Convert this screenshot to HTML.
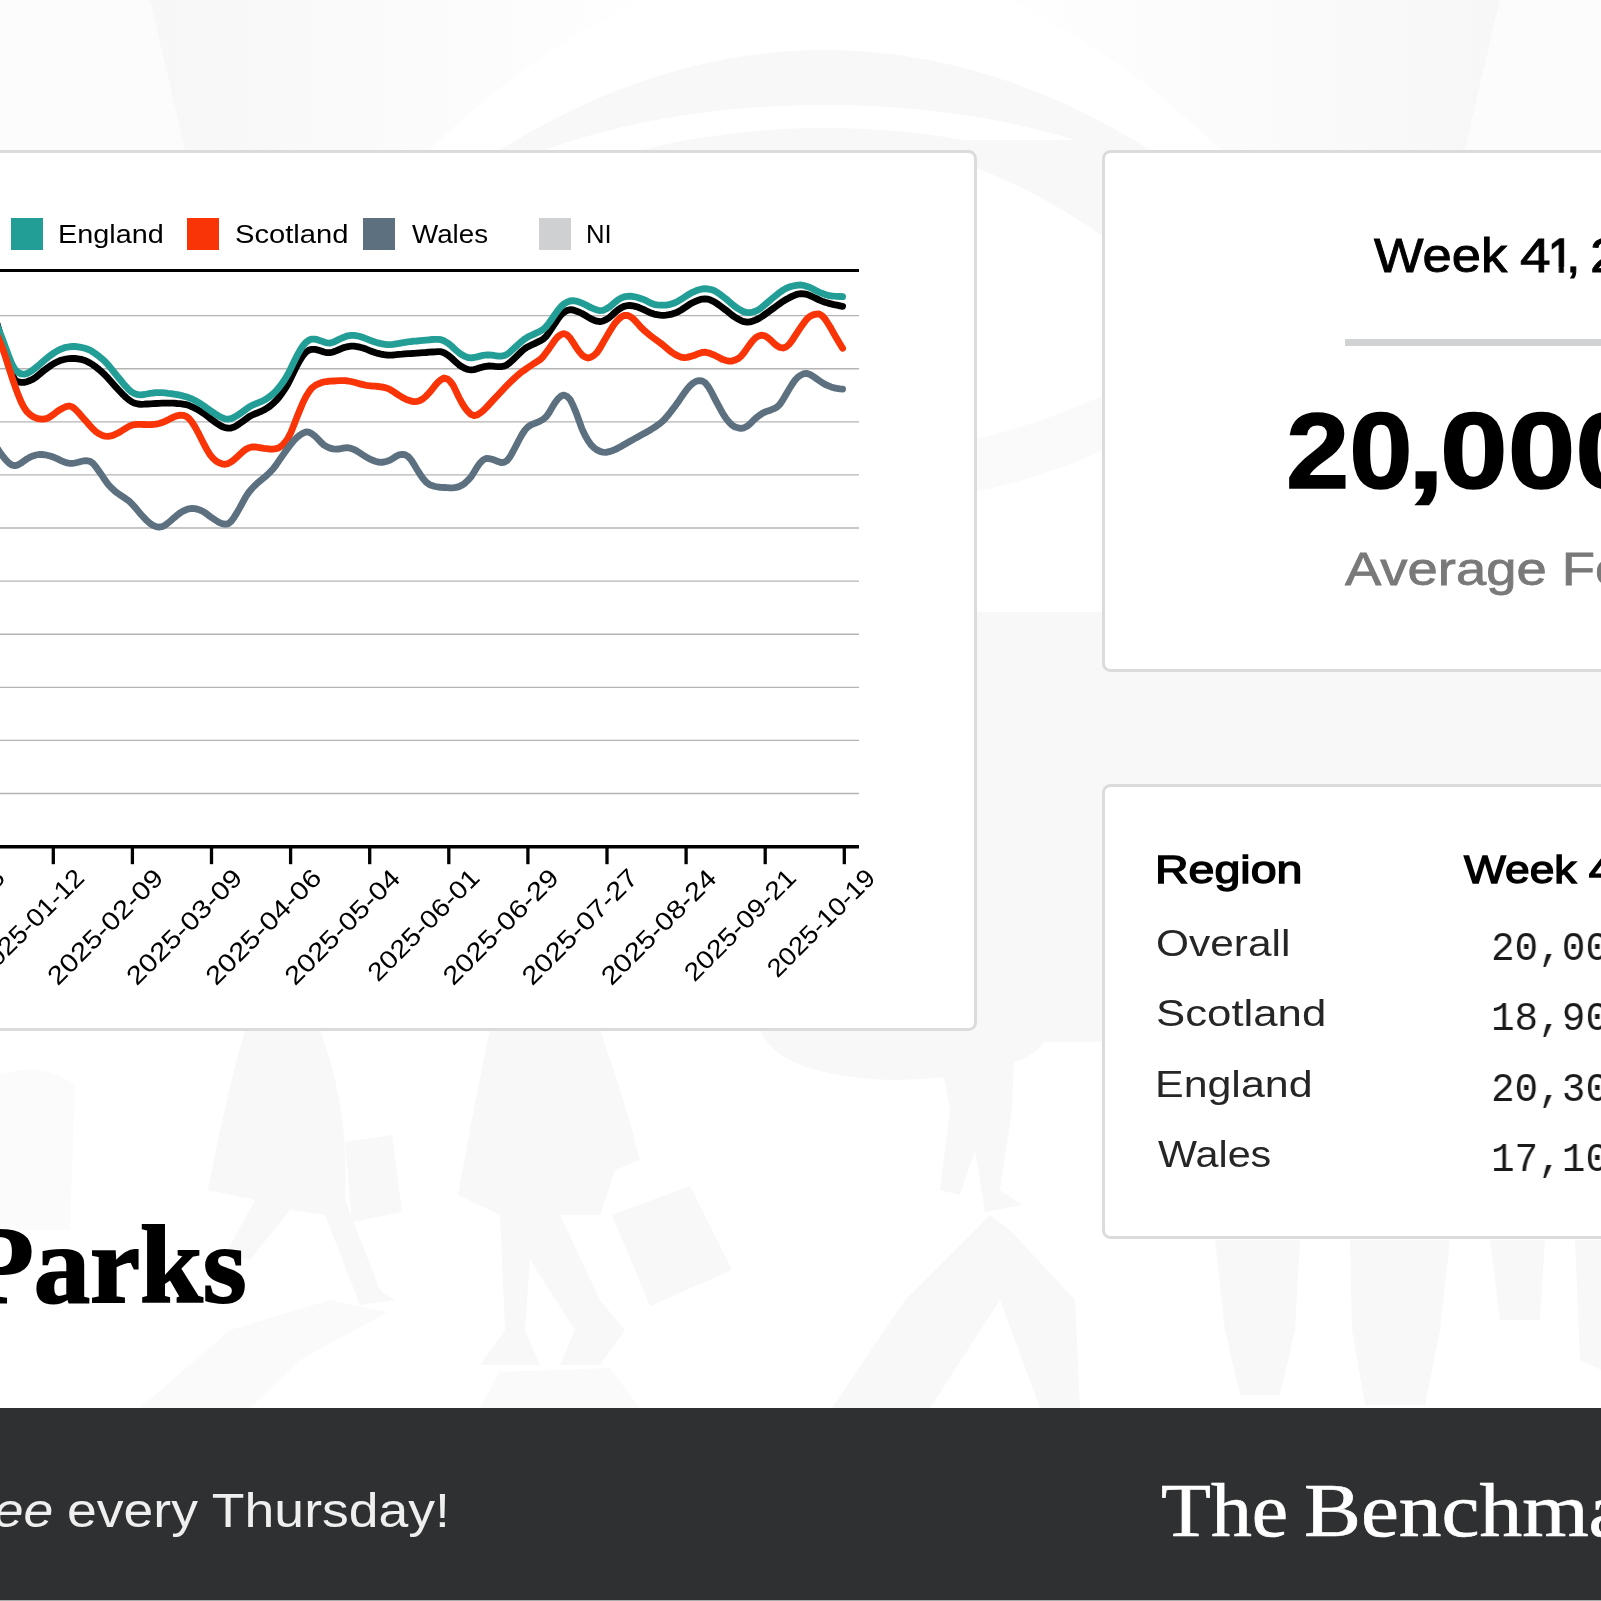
<!DOCTYPE html>
<html lang="en"><head><meta charset="utf-8"><title>Retail Parks Footfall</title>
<style>
html,body{margin:0;padding:0}
html{width:1601px;height:1601px;overflow:hidden}
body{width:1601px;height:1601px;position:relative;overflow:hidden;background:#fff;font-family:"Liberation Sans",sans-serif}
.abs{position:absolute;left:0;top:0;will-change:transform}
.card{position:absolute;box-sizing:border-box;background:#fff;border:3.2px solid #dbdbdb;border-radius:8.5px}
.t{will-change:transform;position:absolute;white-space:nowrap;line-height:1;transform-origin:0 0}
.sw{position:absolute;width:32px;height:32px;top:217.6px}
</style></head><body>
<svg class="abs" width="1601" height="1601" viewBox="0 0 1601 1601">
<path d="M0,0 L150,0 L185,150 L0,150 Z" fill="#fcfcfc"/>
<defs><linearGradient id="gl" x1="150" x2="620" y1="0" y2="0" gradientUnits="userSpaceOnUse"><stop offset="0" stop-color="#f7f7f7"/><stop offset="1" stop-color="#fefefe"/></linearGradient><linearGradient id="gr" x1="1500" x2="1030" y1="0" y2="0" gradientUnits="userSpaceOnUse"><stop offset="0" stop-color="#f7f7f7"/><stop offset="1" stop-color="#fefefe"/></linearGradient></defs>
<path d="M150,0 L640,0 Q520,60 430,150 L185,150 Z" fill="url(#gl)"/>
<path d="M1500,0 L1010,0 Q1130,60 1220,150 L1465,150 Z" fill="url(#gr)"/>
<path d="M1500,0 L1601,0 L1601,150 L1465,150 Z" fill="#fcfcfc"/>
<path d="M500,150 Q660,50 825,50 Q990,50 1150,150 L1105,150 Q980,105 825,105 Q670,105 545,150 Z" fill="#f8f8f8"/>
<path d="M640,150 Q730,128 825,128 Q920,128 1010,150 Z" fill="#f8f8f8"/>
<path d="M965,140 L1115,140 L1115,245 Q1040,190 965,164 Z" fill="#f8f8f8"/>
<path d="M965,442 Q1040,425 1115,390 L1115,445 Q1040,480 965,494 Z" fill="#fafafa"/>
<rect x="965" y="612" width="150" height="430" fill="#f8f8f8"/>
<rect x="1095" y="660" width="506" height="135" fill="#f8f8f8"/>
<path d="M0,1075 Q40,1060 75,1085 L70,1230 L0,1230 Z" fill="#fbfbfb"/>
<path d="M245,1030 L320,1030 Q350,1110 345,1200 L380,1290 L395,1300 L360,1305 L325,1215 L290,1210 L250,1260 L225,1255 L255,1200 L208,1190 Q225,1100 245,1030 Z" fill="#f8f8f8"/>
<path d="M345,1142 L392,1135 L402,1212 L352,1222 Z" fill="#f8f8f8"/>
<path d="M490,1030 L600,1030 Q625,1100 640,1160 L615,1170 L600,1215 L560,1215 L600,1300 L625,1330 L600,1365 L560,1365 L575,1330 L530,1260 L525,1330 L540,1365 L480,1365 L505,1330 L500,1215 L458,1195 Q475,1100 490,1030 Z" fill="#f8f8f8"/>
<path d="M612,1215 L690,1186 L732,1270 L650,1306 Z" fill="#f8f8f8"/>
<path d="M760,1030 L1050,1030 Q1040,1075 900,1080 Q780,1078 760,1030 Z" fill="#f8f8f8"/>
<path d="M935,1030 L1015,1030 L1012,1110 L1000,1190 L1022,1205 L985,1212 L975,1150 L960,1195 L940,1190 L950,1110 Z" fill="#f8f8f8"/>
<path d="M140,1408 L230,1330 L330,1300 L388,1312 L300,1360 L250,1408 Z" fill="#fafafa"/>
<path d="M480,1408 L500,1372 L610,1368 L640,1408 Z" fill="#fafafa"/>
<path d="M832,1408 L905,1300 L990,1215 L1010,1230 L1075,1300 L1080,1408 L1040,1408 L1000,1300 L930,1408 Z" fill="#f8f8f8"/>
<path d="M1215,1240 L1300,1240 L1295,1330 L1280,1395 L1240,1395 L1225,1330 Z" fill="#f8f8f8"/>
<path d="M1350,1240 L1450,1240 L1440,1330 L1425,1405 L1365,1405 L1352,1330 Z" fill="#f8f8f8"/>
<path d="M1490,1240 L1545,1240 L1540,1320 L1500,1320 Z" fill="#f8f8f8"/>
<path d="M1575,1240 L1601,1240 L1601,1370 L1580,1360 Z" fill="#f8f8f8"/>
</svg>
<div class="card" style="left:-40px;top:150.4px;width:1017.2px;height:880.2px"></div>
<div class="card" style="left:1101.9px;top:150.4px;width:560px;height:521.9px"></div>
<div class="card" style="left:1101.9px;top:784.3px;width:560px;height:454.4px"></div>
<svg class="abs" width="1601" height="1601" viewBox="0 0 1601 1601">
<line x1="-10" x2="859" y1="793.5" y2="793.5" stroke="#b4b4b4" stroke-width="1.35"/>
<line x1="-10" x2="859" y1="740.4" y2="740.4" stroke="#b4b4b4" stroke-width="1.35"/>
<line x1="-10" x2="859" y1="687.3" y2="687.3" stroke="#b4b4b4" stroke-width="1.35"/>
<line x1="-10" x2="859" y1="634.2" y2="634.2" stroke="#b4b4b4" stroke-width="1.35"/>
<line x1="-10" x2="859" y1="581.1" y2="581.1" stroke="#b4b4b4" stroke-width="1.35"/>
<line x1="-10" x2="859" y1="528.0" y2="528.0" stroke="#b4b4b4" stroke-width="1.35"/>
<line x1="-10" x2="859" y1="474.9" y2="474.9" stroke="#b4b4b4" stroke-width="1.35"/>
<line x1="-10" x2="859" y1="421.8" y2="421.8" stroke="#b4b4b4" stroke-width="1.35"/>
<line x1="-10" x2="859" y1="368.7" y2="368.7" stroke="#b4b4b4" stroke-width="1.35"/>
<line x1="-10" x2="859" y1="315.6" y2="315.6" stroke="#b4b4b4" stroke-width="1.35"/>
<path d="M-6.0,316.0 L-3.0,323.7 L0.0,334.0 L3.0,345.6 L6.0,356.9 L9.0,366.4 L12.0,373.9 L15.0,379.9 L18.0,381.8 L21.0,382.3 L24.0,382.4 L27.0,381.7 L30.0,380.5 L33.0,379.1 L36.0,377.2 L39.0,374.7 L42.0,372.2 L45.0,369.7 L48.0,367.5 L51.0,365.4 L54.0,363.5 L57.0,362.0 L60.0,360.6 L63.0,359.7 L66.0,359.0 L69.0,358.6 L72.0,358.5 L75.0,358.5 L78.0,358.8 L81.0,359.3 L84.0,360.2 L87.0,361.4 L90.0,363.0 L93.0,364.9 L96.0,367.1 L99.0,369.5 L102.0,372.1 L105.0,375.0 L108.0,378.2 L111.0,381.6 L114.0,385.0 L117.0,388.3 L120.0,391.5 L123.0,394.6 L126.0,397.5 L129.0,400.0 L132.0,402.0 L135.0,403.3 L138.0,404.0 L141.0,404.3 L144.0,404.2 L147.0,404.0 L150.0,403.8 L153.0,403.6 L156.0,403.5 L159.0,403.4 L162.0,403.2 L165.0,403.1 L168.0,403.1 L171.0,403.1 L174.0,403.2 L177.0,403.5 L180.0,403.7 L183.0,404.1 L186.0,404.6 L189.0,405.5 L192.0,406.8 L195.0,408.3 L198.0,409.8 L201.0,411.6 L204.0,413.6 L207.0,415.9 L210.0,418.2 L213.0,420.5 L216.0,422.7 L219.0,424.8 L222.0,426.5 L225.0,427.7 L228.0,428.2 L231.0,428.0 L234.0,427.1 L237.0,425.4 L240.0,423.3 L243.0,421.2 L246.0,419.0 L249.0,416.8 L252.0,415.1 L255.0,413.8 L258.0,412.7 L261.0,411.4 L264.0,410.0 L267.0,408.2 L270.0,406.1 L273.0,403.7 L276.0,400.7 L279.0,397.2 L282.0,393.2 L285.0,388.8 L288.0,383.7 L291.0,377.7 L294.0,371.5 L297.0,365.5 L300.0,360.1 L303.0,355.5 L306.0,352.0 L309.0,350.1 L312.0,349.3 L315.0,349.3 L318.0,350.1 L321.0,351.0 L324.0,352.0 L327.0,352.7 L330.0,352.7 L333.0,352.0 L336.0,350.9 L339.0,349.6 L342.0,348.3 L345.0,347.3 L348.0,346.6 L351.0,346.2 L354.0,346.2 L357.0,346.6 L360.0,347.2 L363.0,348.0 L366.0,349.0 L369.0,350.3 L372.0,351.5 L375.0,352.5 L378.0,353.4 L381.0,354.1 L384.0,354.7 L387.0,355.0 L390.0,355.2 L393.0,355.0 L396.0,354.7 L399.0,354.3 L402.0,354.1 L405.0,353.8 L408.0,353.6 L411.0,353.5 L414.0,353.3 L417.0,353.1 L420.0,352.9 L423.0,352.7 L426.0,352.5 L429.0,352.2 L432.0,352.0 L435.0,351.9 L438.0,351.7 L441.0,351.7 L444.0,352.7 L447.0,354.6 L450.0,356.8 L453.0,359.4 L456.0,362.2 L459.0,364.8 L462.0,366.8 L465.0,368.4 L468.0,369.5 L471.0,369.9 L474.0,369.6 L477.0,368.8 L480.0,367.8 L483.0,366.9 L486.0,366.3 L489.0,366.0 L492.0,366.1 L495.0,366.4 L498.0,366.6 L501.0,366.6 L504.0,366.2 L507.0,364.8 L510.0,362.5 L513.0,359.8 L516.0,356.9 L519.0,353.9 L522.0,351.0 L525.0,348.5 L528.0,346.7 L531.0,345.2 L534.0,343.9 L537.0,342.4 L540.0,340.9 L543.0,339.3 L546.0,336.5 L549.0,332.4 L552.0,327.9 L555.0,323.3 L558.0,318.8 L561.0,314.9 L564.0,312.2 L567.0,310.6 L570.0,309.7 L573.0,310.0 L576.0,311.0 L579.0,312.2 L582.0,313.5 L585.0,315.2 L588.0,317.1 L591.0,318.8 L594.0,320.2 L597.0,321.2 L600.0,321.7 L603.0,321.0 L606.0,319.6 L609.0,317.8 L612.0,315.2 L615.0,312.3 L618.0,309.8 L621.0,307.8 L624.0,306.4 L627.0,305.7 L630.0,305.5 L633.0,305.8 L636.0,306.6 L639.0,307.6 L642.0,308.8 L645.0,310.2 L648.0,311.7 L651.0,313.1 L654.0,314.1 L657.0,314.7 L660.0,315.1 L663.0,315.3 L666.0,315.1 L669.0,314.7 L672.0,314.1 L675.0,313.1 L678.0,311.8 L681.0,310.1 L684.0,308.1 L687.0,306.1 L690.0,304.1 L693.0,302.5 L696.0,301.1 L699.0,300.0 L702.0,299.1 L705.0,298.8 L708.0,299.1 L711.0,300.2 L714.0,301.7 L717.0,303.6 L720.0,305.7 L723.0,307.9 L726.0,310.2 L729.0,312.7 L732.0,315.1 L735.0,317.2 L738.0,319.0 L741.0,320.6 L744.0,321.7 L747.0,322.2 L750.0,321.9 L753.0,321.0 L756.0,319.9 L759.0,318.4 L762.0,316.5 L765.0,314.4 L768.0,312.2 L771.0,310.0 L774.0,307.9 L777.0,305.6 L780.0,303.4 L783.0,301.3 L786.0,299.5 L789.0,297.9 L792.0,296.4 L795.0,295.1 L798.0,294.1 L801.0,293.7 L804.0,293.8 L807.0,294.4 L810.0,295.6 L813.0,297.0 L816.0,298.4 L819.0,299.9 L822.0,301.1 L825.0,302.2 L828.0,303.1 L831.0,303.9 L834.0,304.6 L837.0,305.2 L840.0,305.8 L842.6,306.3" fill="none" stroke="#000" stroke-width="6.8" stroke-linecap="round" stroke-linejoin="round"/>
<path d="M-6.0,318.0 L-3.0,325.5 L0.0,333.0 L3.0,340.6 L6.0,348.6 L9.0,356.9 L12.0,364.3 L15.0,369.5 L18.0,372.4 L21.0,373.9 L24.0,374.2 L27.0,373.5 L30.0,371.9 L33.0,369.9 L36.0,367.5 L39.0,365.0 L42.0,362.4 L45.0,359.8 L48.0,357.3 L51.0,355.0 L54.0,352.9 L57.0,351.1 L60.0,349.5 L63.0,348.3 L66.0,347.3 L69.0,346.8 L72.0,346.5 L75.0,346.5 L78.0,346.8 L81.0,347.4 L84.0,348.0 L87.0,349.0 L90.0,350.2 L93.0,352.0 L96.0,354.1 L99.0,356.3 L102.0,358.8 L105.0,361.5 L108.0,364.8 L111.0,368.4 L114.0,372.1 L117.0,375.8 L120.0,379.5 L123.0,383.2 L126.0,386.7 L129.0,389.8 L132.0,392.3 L135.0,393.8 L138.0,394.6 L141.0,394.8 L144.0,394.5 L147.0,394.0 L150.0,393.4 L153.0,393.0 L156.0,392.7 L159.0,392.6 L162.0,392.7 L165.0,392.9 L168.0,393.3 L171.0,393.6 L174.0,394.1 L177.0,394.6 L180.0,395.2 L183.0,395.9 L186.0,396.8 L189.0,397.8 L192.0,399.0 L195.0,400.5 L198.0,402.2 L201.0,404.0 L204.0,406.0 L207.0,408.2 L210.0,410.3 L213.0,412.3 L216.0,414.3 L219.0,416.2 L222.0,417.7 L225.0,418.9 L228.0,419.2 L231.0,418.7 L234.0,417.4 L237.0,415.6 L240.0,413.6 L243.0,411.5 L246.0,409.2 L249.0,407.1 L252.0,405.3 L255.0,404.1 L258.0,402.9 L261.0,401.7 L264.0,400.2 L267.0,398.5 L270.0,396.4 L273.0,393.9 L276.0,391.0 L279.0,387.5 L282.0,383.5 L285.0,379.1 L288.0,374.0 L291.0,368.0 L294.0,361.8 L297.0,355.7 L300.0,350.4 L303.0,345.7 L306.0,342.2 L309.0,340.1 L312.0,339.1 L315.0,339.1 L318.0,339.9 L321.0,340.9 L324.0,342.0 L327.0,342.9 L330.0,343.1 L333.0,342.3 L336.0,340.9 L339.0,339.4 L342.0,338.0 L345.0,336.8 L348.0,335.8 L351.0,335.3 L354.0,335.3 L357.0,335.8 L360.0,336.5 L363.0,337.5 L366.0,338.6 L369.0,339.8 L372.0,341.0 L375.0,342.0 L378.0,342.9 L381.0,343.6 L384.0,344.2 L387.0,344.6 L390.0,344.7 L393.0,344.4 L396.0,343.9 L399.0,343.4 L402.0,342.8 L405.0,342.3 L408.0,341.9 L411.0,341.5 L414.0,341.2 L417.0,341.0 L420.0,340.7 L423.0,340.4 L426.0,340.1 L429.0,339.8 L432.0,339.5 L435.0,339.3 L438.0,339.3 L441.0,339.7 L444.0,340.8 L447.0,342.6 L450.0,344.8 L453.0,347.4 L456.0,350.2 L459.0,352.8 L462.0,354.8 L465.0,356.4 L468.0,357.5 L471.0,357.8 L474.0,357.5 L477.0,356.9 L480.0,356.1 L483.0,355.4 L486.0,355.0 L489.0,355.0 L492.0,355.2 L495.0,355.7 L498.0,356.0 L501.0,356.1 L504.0,355.7 L507.0,354.4 L510.0,352.1 L513.0,349.3 L516.0,346.5 L519.0,343.7 L522.0,341.1 L525.0,338.8 L528.0,336.9 L531.0,335.5 L534.0,334.1 L537.0,332.7 L540.0,331.2 L543.0,329.5 L546.0,326.9 L549.0,323.0 L552.0,318.8 L555.0,314.4 L558.0,310.2 L561.0,306.6 L564.0,303.9 L567.0,302.1 L570.0,301.0 L573.0,300.7 L576.0,301.1 L579.0,302.0 L582.0,303.1 L585.0,304.5 L588.0,306.1 L591.0,307.6 L594.0,308.9 L597.0,310.0 L600.0,310.7 L603.0,310.3 L606.0,309.0 L609.0,307.3 L612.0,304.8 L615.0,302.2 L618.0,299.9 L621.0,298.1 L624.0,296.9 L627.0,296.3 L630.0,296.2 L633.0,296.5 L636.0,297.0 L639.0,297.9 L642.0,298.9 L645.0,300.1 L648.0,301.7 L651.0,303.3 L654.0,304.3 L657.0,304.8 L660.0,305.1 L663.0,305.2 L666.0,305.1 L669.0,304.6 L672.0,303.8 L675.0,302.7 L678.0,301.2 L681.0,299.4 L684.0,297.5 L687.0,295.5 L690.0,293.7 L693.0,292.1 L696.0,290.8 L699.0,289.8 L702.0,289.0 L705.0,288.7 L708.0,289.0 L711.0,289.6 L714.0,290.6 L717.0,292.2 L720.0,294.3 L723.0,296.6 L726.0,298.9 L729.0,301.5 L732.0,304.1 L735.0,306.5 L738.0,308.6 L741.0,310.4 L744.0,311.8 L747.0,312.6 L750.0,312.7 L753.0,312.0 L756.0,311.0 L759.0,309.4 L762.0,307.2 L765.0,304.7 L768.0,302.1 L771.0,299.5 L774.0,297.0 L777.0,294.6 L780.0,292.2 L783.0,290.1 L786.0,288.4 L789.0,287.1 L792.0,286.3 L795.0,285.6 L798.0,285.1 L801.0,285.0 L804.0,285.5 L807.0,286.4 L810.0,287.5 L813.0,289.0 L816.0,290.7 L819.0,292.1 L822.0,293.3 L825.0,294.4 L828.0,295.3 L831.0,295.9 L834.0,296.2 L837.0,296.4 L840.0,296.5 L842.6,296.7" fill="none" stroke="#239e97" stroke-width="6.8" stroke-linecap="round" stroke-linejoin="round"/>
<path d="M-6.0,327.0 L-3.0,334.9 L0.0,342.0 L3.0,349.5 L6.0,358.4 L9.0,368.1 L12.0,377.4 L15.0,386.1 L18.0,394.3 L21.0,401.6 L24.0,407.5 L27.0,411.8 L30.0,414.6 L33.0,416.6 L36.0,418.0 L39.0,418.9 L42.0,419.2 L45.0,418.9 L48.0,418.0 L51.0,416.3 L54.0,414.1 L57.0,411.7 L60.0,409.7 L63.0,408.0 L66.0,406.6 L69.0,406.0 L72.0,406.8 L75.0,409.0 L78.0,412.1 L81.0,415.5 L84.0,418.9 L87.0,422.2 L90.0,425.7 L93.0,429.0 L96.0,431.7 L99.0,433.8 L102.0,435.3 L105.0,436.2 L108.0,436.4 L111.0,435.9 L114.0,434.9 L117.0,433.5 L120.0,431.9 L123.0,430.0 L126.0,428.1 L129.0,426.4 L132.0,425.1 L135.0,424.5 L138.0,424.3 L141.0,424.4 L144.0,424.5 L147.0,424.6 L150.0,424.6 L153.0,424.5 L156.0,424.1 L159.0,423.5 L162.0,422.6 L165.0,421.3 L168.0,419.9 L171.0,418.3 L174.0,416.9 L177.0,415.8 L180.0,415.2 L183.0,415.3 L186.0,416.3 L189.0,418.5 L192.0,422.1 L195.0,426.9 L198.0,432.3 L201.0,438.2 L204.0,444.2 L207.0,449.8 L210.0,454.6 L213.0,458.3 L216.0,461.0 L219.0,462.7 L222.0,463.9 L225.0,464.3 L228.0,463.6 L231.0,461.9 L234.0,459.7 L237.0,457.1 L240.0,454.2 L243.0,451.5 L246.0,449.2 L249.0,447.8 L252.0,447.0 L255.0,446.9 L258.0,447.3 L261.0,447.8 L264.0,448.3 L267.0,448.7 L270.0,449.1 L273.0,449.1 L276.0,448.7 L279.0,447.7 L282.0,445.7 L285.0,442.4 L288.0,438.1 L291.0,432.2 L294.0,424.8 L297.0,417.0 L300.0,409.6 L303.0,402.5 L306.0,396.5 L309.0,391.7 L312.0,387.9 L315.0,385.6 L318.0,384.0 L321.0,382.8 L324.0,381.9 L327.0,381.5 L330.0,381.2 L333.0,381.0 L336.0,380.8 L339.0,380.7 L342.0,380.6 L345.0,380.7 L348.0,381.0 L351.0,381.5 L354.0,382.2 L357.0,383.0 L360.0,383.9 L363.0,384.6 L366.0,385.3 L369.0,385.7 L372.0,386.0 L375.0,386.2 L378.0,386.5 L381.0,386.8 L384.0,387.4 L387.0,388.2 L390.0,389.5 L393.0,391.3 L396.0,393.4 L399.0,395.4 L402.0,397.2 L405.0,398.8 L408.0,400.1 L411.0,401.1 L414.0,401.6 L417.0,401.4 L420.0,400.5 L423.0,398.8 L426.0,396.2 L429.0,393.0 L432.0,389.5 L435.0,385.6 L438.0,382.2 L441.0,379.7 L444.0,378.0 L447.0,378.7 L450.0,381.1 L453.0,385.1 L456.0,391.2 L459.0,397.5 L462.0,403.1 L465.0,407.8 L468.0,411.6 L471.0,414.4 L474.0,415.6 L477.0,415.0 L480.0,413.2 L483.0,410.8 L486.0,407.9 L489.0,404.6 L492.0,401.4 L495.0,398.2 L498.0,395.0 L501.0,391.7 L504.0,388.5 L507.0,385.4 L510.0,382.4 L513.0,379.5 L516.0,376.7 L519.0,374.1 L522.0,371.7 L525.0,369.6 L528.0,367.5 L531.0,365.5 L534.0,363.5 L537.0,361.7 L540.0,359.7 L543.0,356.8 L546.0,352.8 L549.0,348.7 L552.0,344.3 L555.0,340.0 L558.0,336.6 L561.0,334.5 L564.0,333.6 L567.0,334.8 L570.0,337.9 L573.0,342.3 L576.0,347.1 L579.0,351.4 L582.0,354.9 L585.0,357.1 L588.0,358.0 L591.0,357.2 L594.0,355.4 L597.0,352.5 L600.0,348.0 L603.0,342.8 L606.0,337.6 L609.0,332.6 L612.0,327.7 L615.0,323.2 L618.0,319.8 L621.0,317.1 L624.0,315.5 L627.0,315.3 L630.0,316.4 L633.0,318.6 L636.0,321.7 L639.0,325.1 L642.0,328.3 L645.0,331.2 L648.0,333.7 L651.0,336.1 L654.0,338.4 L657.0,340.6 L660.0,342.7 L663.0,345.0 L666.0,347.6 L669.0,350.1 L672.0,352.5 L675.0,354.4 L678.0,355.9 L681.0,357.2 L684.0,357.7 L687.0,357.4 L690.0,356.6 L693.0,355.8 L696.0,354.7 L699.0,353.4 L702.0,352.4 L705.0,352.2 L708.0,352.8 L711.0,353.8 L714.0,355.0 L717.0,356.5 L720.0,358.1 L723.0,359.6 L726.0,360.5 L729.0,361.1 L732.0,361.1 L735.0,360.1 L738.0,358.7 L741.0,356.4 L744.0,352.7 L747.0,348.4 L750.0,344.2 L753.0,340.4 L756.0,337.4 L759.0,335.8 L762.0,335.2 L765.0,335.9 L768.0,337.8 L771.0,340.3 L774.0,343.3 L777.0,345.8 L780.0,347.5 L783.0,348.0 L786.0,347.0 L789.0,344.5 L792.0,340.6 L795.0,335.9 L798.0,331.3 L801.0,326.9 L804.0,322.7 L807.0,318.9 L810.0,316.3 L813.0,314.9 L816.0,314.1 L819.0,313.9 L822.0,315.6 L825.0,318.8 L828.0,323.5 L831.0,328.4 L834.0,333.8 L837.0,339.0 L840.0,344.0 L842.6,348.3" fill="none" stroke="#f93508" stroke-width="6.8" stroke-linecap="round" stroke-linejoin="round"/>
<path d="M-6.0,443.0 L-3.0,448.0 L0.0,452.5 L3.0,456.5 L6.0,460.1 L9.0,463.2 L12.0,465.2 L15.0,465.7 L18.0,464.9 L21.0,463.1 L24.0,461.0 L27.0,458.9 L30.0,457.2 L33.0,455.9 L36.0,455.0 L39.0,454.5 L42.0,454.5 L45.0,454.8 L48.0,455.5 L51.0,456.3 L54.0,457.4 L57.0,458.7 L60.0,460.1 L63.0,461.5 L66.0,462.6 L69.0,463.3 L72.0,463.4 L75.0,463.0 L78.0,462.3 L81.0,461.5 L84.0,460.8 L87.0,460.7 L90.0,461.4 L93.0,463.4 L96.0,467.0 L99.0,471.3 L102.0,475.5 L105.0,480.1 L108.0,484.2 L111.0,487.5 L114.0,490.3 L117.0,492.8 L120.0,494.9 L123.0,496.9 L126.0,498.9 L129.0,501.1 L132.0,503.9 L135.0,507.3 L138.0,510.9 L141.0,514.5 L144.0,517.7 L147.0,520.8 L150.0,523.4 L153.0,525.4 L156.0,526.6 L159.0,527.1 L162.0,526.7 L165.0,525.2 L168.0,523.0 L171.0,520.5 L174.0,517.8 L177.0,515.3 L180.0,513.0 L183.0,511.2 L186.0,509.8 L189.0,508.8 L192.0,508.4 L195.0,508.6 L198.0,509.4 L201.0,510.5 L204.0,512.0 L207.0,514.1 L210.0,516.5 L213.0,518.5 L216.0,520.5 L219.0,522.4 L222.0,523.6 L225.0,524.1 L228.0,523.8 L231.0,521.6 L234.0,517.4 L237.0,512.6 L240.0,507.4 L243.0,501.8 L246.0,496.4 L249.0,492.0 L252.0,488.5 L255.0,485.4 L258.0,482.6 L261.0,480.1 L264.0,477.7 L267.0,475.1 L270.0,472.2 L273.0,469.0 L276.0,465.1 L279.0,460.7 L282.0,456.4 L285.0,452.1 L288.0,448.0 L291.0,444.0 L294.0,440.4 L297.0,437.4 L300.0,435.0 L303.0,433.1 L306.0,432.0 L309.0,432.2 L312.0,433.8 L315.0,436.2 L318.0,439.2 L321.0,442.4 L324.0,445.1 L327.0,446.8 L330.0,448.1 L333.0,448.9 L336.0,449.2 L339.0,449.0 L342.0,448.4 L345.0,447.8 L348.0,447.7 L351.0,448.4 L354.0,449.5 L357.0,451.1 L360.0,453.0 L363.0,455.0 L366.0,456.9 L369.0,458.6 L372.0,460.0 L375.0,461.2 L378.0,462.0 L381.0,462.3 L384.0,462.0 L387.0,461.2 L390.0,460.1 L393.0,458.3 L396.0,456.3 L399.0,454.9 L402.0,454.3 L405.0,454.7 L408.0,456.4 L411.0,459.7 L414.0,464.4 L417.0,469.5 L420.0,474.2 L423.0,478.5 L426.0,482.0 L429.0,484.3 L432.0,485.6 L435.0,486.5 L438.0,487.0 L441.0,487.3 L444.0,487.5 L447.0,487.7 L450.0,487.9 L453.0,487.8 L456.0,487.4 L459.0,486.6 L462.0,485.2 L465.0,483.1 L468.0,480.3 L471.0,477.0 L474.0,472.2 L477.0,467.2 L480.0,463.1 L483.0,460.0 L486.0,458.5 L489.0,458.6 L492.0,459.3 L495.0,460.3 L498.0,461.5 L501.0,462.5 L504.0,462.4 L507.0,460.6 L510.0,456.9 L513.0,451.5 L516.0,445.8 L519.0,440.0 L522.0,434.5 L525.0,430.0 L528.0,426.9 L531.0,424.9 L534.0,423.6 L537.0,422.5 L540.0,421.1 L543.0,419.4 L546.0,416.9 L549.0,412.7 L552.0,407.6 L555.0,402.7 L558.0,398.7 L561.0,396.1 L564.0,395.1 L567.0,396.3 L570.0,399.3 L573.0,405.3 L576.0,412.4 L579.0,420.5 L582.0,428.9 L585.0,435.3 L588.0,440.5 L591.0,444.8 L594.0,447.7 L597.0,449.9 L600.0,451.4 L603.0,452.2 L606.0,452.3 L609.0,451.7 L612.0,450.7 L615.0,449.6 L618.0,448.1 L621.0,446.5 L624.0,444.7 L627.0,443.0 L630.0,441.3 L633.0,439.6 L636.0,437.9 L639.0,436.3 L642.0,434.6 L645.0,433.0 L648.0,431.3 L651.0,429.5 L654.0,427.6 L657.0,425.6 L660.0,423.4 L663.0,420.9 L666.0,417.7 L669.0,414.0 L672.0,410.1 L675.0,406.2 L678.0,402.1 L681.0,397.7 L684.0,393.3 L687.0,389.2 L690.0,385.8 L693.0,383.1 L696.0,381.3 L699.0,380.6 L702.0,380.9 L705.0,382.6 L708.0,386.2 L711.0,391.3 L714.0,397.1 L717.0,402.8 L720.0,408.4 L723.0,413.8 L726.0,418.4 L729.0,422.1 L732.0,425.2 L735.0,427.0 L738.0,427.8 L741.0,428.3 L744.0,427.8 L747.0,426.3 L750.0,423.8 L753.0,420.8 L756.0,418.0 L759.0,415.6 L762.0,413.6 L765.0,412.0 L768.0,410.9 L771.0,409.9 L774.0,408.7 L777.0,407.0 L780.0,404.2 L783.0,399.6 L786.0,394.5 L789.0,389.4 L792.0,384.5 L795.0,380.1 L798.0,377.0 L801.0,375.0 L804.0,373.7 L807.0,373.4 L810.0,374.4 L813.0,376.3 L816.0,378.4 L819.0,380.5 L822.0,382.5 L825.0,384.3 L828.0,385.7 L831.0,386.9 L834.0,387.8 L837.0,388.4 L840.0,388.9 L842.6,389.2" fill="none" stroke="#5c7080" stroke-width="6.8" stroke-linecap="round" stroke-linejoin="round"/>
<line x1="-10" x2="859" y1="270.5" y2="270.5" stroke="#000" stroke-width="3.2"/>
<line x1="-10" x2="859" y1="846.7" y2="846.7" stroke="#000" stroke-width="3.4"/>
<line x1="844.3" x2="844.3" y1="846" y2="864.2" stroke="#000" stroke-width="3.3"/>
<line x1="765.2" x2="765.2" y1="846" y2="864.2" stroke="#000" stroke-width="3.3"/>
<line x1="686.1" x2="686.1" y1="846" y2="864.2" stroke="#000" stroke-width="3.3"/>
<line x1="607.0" x2="607.0" y1="846" y2="864.2" stroke="#000" stroke-width="3.3"/>
<line x1="527.9" x2="527.9" y1="846" y2="864.2" stroke="#000" stroke-width="3.3"/>
<line x1="448.8" x2="448.8" y1="846" y2="864.2" stroke="#000" stroke-width="3.3"/>
<line x1="369.7" x2="369.7" y1="846" y2="864.2" stroke="#000" stroke-width="3.3"/>
<line x1="290.6" x2="290.6" y1="846" y2="864.2" stroke="#000" stroke-width="3.3"/>
<line x1="211.5" x2="211.5" y1="846" y2="864.2" stroke="#000" stroke-width="3.3"/>
<line x1="132.4" x2="132.4" y1="846" y2="864.2" stroke="#000" stroke-width="3.3"/>
<line x1="53.3" x2="53.3" y1="846" y2="864.2" stroke="#000" stroke-width="3.3"/>
<line x1="-25.8" x2="-25.8" y1="846" y2="864.2" stroke="#000" stroke-width="3.3"/>
<text transform="translate(875.9,880.3) rotate(-45) scale(1.0765,1)" x="-129.28" y="0" font-family="'Liberation Sans', sans-serif" font-size="25.5" fill="#000">2025-10-19</text>
<text transform="translate(796.8,880.3) rotate(-45) scale(1.1200,1)" x="-129.22" y="0" font-family="'Liberation Sans', sans-serif" font-size="25.5" fill="#000">2025-09-21</text>
<text transform="translate(717.7,880.3) rotate(-45) scale(1.1584,1)" x="-129.73" y="0" font-family="'Liberation Sans', sans-serif" font-size="25.5" fill="#000">2025-08-24</text>
<text transform="translate(638.6,880.3) rotate(-45) scale(1.1636,1)" x="-129.16" y="0" font-family="'Liberation Sans', sans-serif" font-size="25.5" fill="#000">2025-07-27</text>
<text transform="translate(559.5,880.3) rotate(-45) scale(1.1624,1)" x="-129.28" y="0" font-family="'Liberation Sans', sans-serif" font-size="25.5" fill="#000">2025-06-29</text>
<text transform="translate(480.4,880.3) rotate(-45) scale(1.1200,1)" x="-129.22" y="0" font-family="'Liberation Sans', sans-serif" font-size="25.5" fill="#000">2025-06-01</text>
<text transform="translate(401.3,880.3) rotate(-45) scale(1.1584,1)" x="-129.73" y="0" font-family="'Liberation Sans', sans-serif" font-size="25.5" fill="#000">2025-05-04</text>
<text transform="translate(322.2,880.3) rotate(-45) scale(1.1618,1)" x="-129.35" y="0" font-family="'Liberation Sans', sans-serif" font-size="25.5" fill="#000">2025-04-06</text>
<text transform="translate(243.1,880.3) rotate(-45) scale(1.1624,1)" x="-129.28" y="0" font-family="'Liberation Sans', sans-serif" font-size="25.5" fill="#000">2025-03-09</text>
<text transform="translate(164.0,880.3) rotate(-45) scale(1.1624,1)" x="-129.28" y="0" font-family="'Liberation Sans', sans-serif" font-size="25.5" fill="#000">2025-02-09</text>
<text transform="translate(84.9,880.3) rotate(-45) scale(1.0776,1)" x="-129.16" y="0" font-family="'Liberation Sans', sans-serif" font-size="25.5" fill="#000">2025-01-12</text>
<text transform="translate(5.8,880.3) rotate(-45) scale(1.0754,1)" x="-129.41" y="0" font-family="'Liberation Sans', sans-serif" font-size="25.5" fill="#000">2024-12-15</text>
</svg>
<div class="sw" style="left:-165px;background:#000"></div>
<div class="sw" style="left:11px;background:#239e97"></div>
<div class="sw" style="left:186.6px;background:#f93508"></div>
<div class="sw" style="left:362.6px;background:#5c7080"></div>
<div class="sw" style="left:538.6px;background:#cfd0d2"></div>
<div class="t" style="left:57.62px;top:222.27px;font-family:'Liberation Sans', sans-serif;font-weight:400;font-size:25.2px;color:#000;transform:scaleX(1.1438);">England</div>
<div class="t" style="left:234.69px;top:222.27px;font-family:'Liberation Sans', sans-serif;font-weight:400;font-size:25.2px;color:#000;transform:scaleX(1.1582);">Scotland</div>
<div class="t" style="left:411.86px;top:222.27px;font-family:'Liberation Sans', sans-serif;font-weight:400;font-size:25.2px;color:#000;transform:scaleX(1.1013);">Wales</div>
<div class="t" style="left:586.28px;top:222.27px;font-family:'Liberation Sans', sans-serif;font-weight:400;font-size:25.2px;color:#000;transform:scaleX(1.0197);">NI</div>
<div class="t" style="left:1373.74px;top:231.79px;font-family:'Liberation Sans', sans-serif;font-weight:400;font-size:47.5px;color:#000;transform:scaleX(1.1056);-webkit-text-stroke:0.9px #000;">Week</div>
<div class="t" style="left:1519.76px;top:231.79px;font-family:'Liberation Sans', sans-serif;font-weight:400;font-size:47.5px;color:#000;transform:scaleX(1.1589);-webkit-text-stroke:0.9px #000;">4</div>
<div class="t" style="left:1548.06px;top:231.79px;font-family:'Liberation Sans', sans-serif;font-weight:400;font-size:47.5px;color:#000;transform:scaleX(0.9500);-webkit-text-stroke:1.5px #000;clip-path:polygon(0 0,0.7em 0,0.7em 0.735em,0.352em 0.735em,0.352em 1.2em,0.24em 1.2em,0.24em 0.735em,0 0.735em);">1</div>
<div class="t" style="left:1565.70px;top:231.79px;font-family:'Liberation Sans', sans-serif;font-weight:400;font-size:47.5px;color:#000;transform:scaleX(1.1000);-webkit-text-stroke:0.9px #000;">,</div>
<div class="t" style="left:1590.13px;top:231.79px;font-family:'Liberation Sans', sans-serif;font-weight:400;font-size:47.5px;color:#000;transform:scaleX(1.1649);-webkit-text-stroke:0.9px #000;">2025</div>
<div style="position:absolute;left:1345px;top:339.4px;width:300px;height:6.2px;background:#d1d2d4"></div>
<div class="t" style="left:1285.72px;top:397.82px;font-family:'Liberation Sans', sans-serif;font-weight:700;font-size:107px;color:#000;transform:scaleX(1.0637);-webkit-text-stroke:1.5px #000;">20</div>
<div class="t" style="left:1407.00px;top:397.82px;font-family:'Liberation Sans', sans-serif;font-weight:700;font-size:107px;color:#000;transform:scaleX(1.2684);-webkit-text-stroke:1.5px #000;">,</div>
<div class="t" style="left:1439.83px;top:397.82px;font-family:'Liberation Sans', sans-serif;font-weight:700;font-size:107px;color:#000;transform:scaleX(1.1368);-webkit-text-stroke:1.5px #000;">000</div>
<div class="t" style="left:1345.16px;top:546.32px;font-family:'Liberation Sans', sans-serif;font-weight:400;font-size:46.4px;color:#797979;transform:scaleX(1.1730);-webkit-text-stroke:0.8px #797979;">Average Footfall</div>
<div class="t" style="left:1154.86px;top:850.29px;font-family:'Liberation Sans', sans-serif;font-weight:400;font-size:39px;color:#000;transform:scaleX(1.1929);-webkit-text-stroke:1.35px #000;">Region</div>
<div class="t" style="left:1463.68px;top:850.29px;font-family:'Liberation Sans', sans-serif;font-weight:400;font-size:39px;color:#000;transform:scaleX(1.1370);-webkit-text-stroke:1.35px #000;">Week 41</div>
<div class="t" style="left:1155.88px;top:925.30px;font-family:'Liberation Sans', sans-serif;font-weight:400;font-size:37.8px;color:#262626;transform:scaleX(1.1223);">Overall</div>
<div class="t" style="left:1490.85px;top:929.07px;font-family:'Liberation Mono', monospace;font-size:41px;color:#1a1a1a;transform:scaleX(0.9593)">20,000</div>
<div class="t" style="left:1155.93px;top:995.40px;font-family:'Liberation Sans', sans-serif;font-weight:400;font-size:37.8px;color:#262626;transform:scaleX(1.1575);">Scotland</div>
<div class="t" style="left:1490.85px;top:999.17px;font-family:'Liberation Mono', monospace;font-size:41px;color:#1a1a1a;transform:scaleX(0.9593)">18,900</div>
<div class="t" style="left:1154.56px;top:1066.00px;font-family:'Liberation Sans', sans-serif;font-weight:400;font-size:37.8px;color:#262626;transform:scaleX(1.1355);">England</div>
<div class="t" style="left:1490.85px;top:1069.77px;font-family:'Liberation Mono', monospace;font-size:41px;color:#1a1a1a;transform:scaleX(0.9593)">20,300</div>
<div class="t" style="left:1157.79px;top:1136.00px;font-family:'Liberation Sans', sans-serif;font-weight:400;font-size:37.8px;color:#262626;transform:scaleX(1.0934);">Wales</div>
<div class="t" style="left:1490.85px;top:1139.77px;font-family:'Liberation Mono', monospace;font-size:41px;color:#1a1a1a;transform:scaleX(0.9593)">17,100</div>
<div class="t" style="left:-34.77px;top:1209.04px;font-family:'Liberation Serif', serif;font-weight:700;font-size:111px;color:#000;transform:scaleX(1.0147);-webkit-text-stroke:2px #000;">Parks</div>
<div style="position:absolute;left:0;top:1408.4px;width:1601px;height:192.6px;background:#2f3032"></div>
<div style="position:absolute;left:0;top:1599.6px;width:1601px;height:2px;background:#a9adac"></div>
<div class="t" style="left:1161.07px;top:1472.01px;font-family:'Liberation Serif', serif;font-weight:400;font-size:77px;color:#fff;transform:scaleX(1.0623);-webkit-text-stroke:0.7px #fff;">The</div>
<div class="t" style="left:1304.44px;top:1472.01px;font-family:'Liberation Serif', serif;font-weight:400;font-size:77px;color:#fff;transform:scaleX(1.1089);-webkit-text-stroke:0.7px #fff;">Benchmark</div>
<div class="t" style="left:66.72px;top:1486.79px;font-family:'Liberation Sans', sans-serif;font-weight:400;font-size:47.5px;color:#efefef;transform:scaleX(1.1274);">every Thursday!</div>
<div class="t" style="left:-38.67px;top:1486.79px;font-family:'Liberation Sans', sans-serif;font-weight:400;font-size:47.5px;color:#efefef;transform:scaleX(1.1274);font-style:italic;">free</div>
</body></html>
